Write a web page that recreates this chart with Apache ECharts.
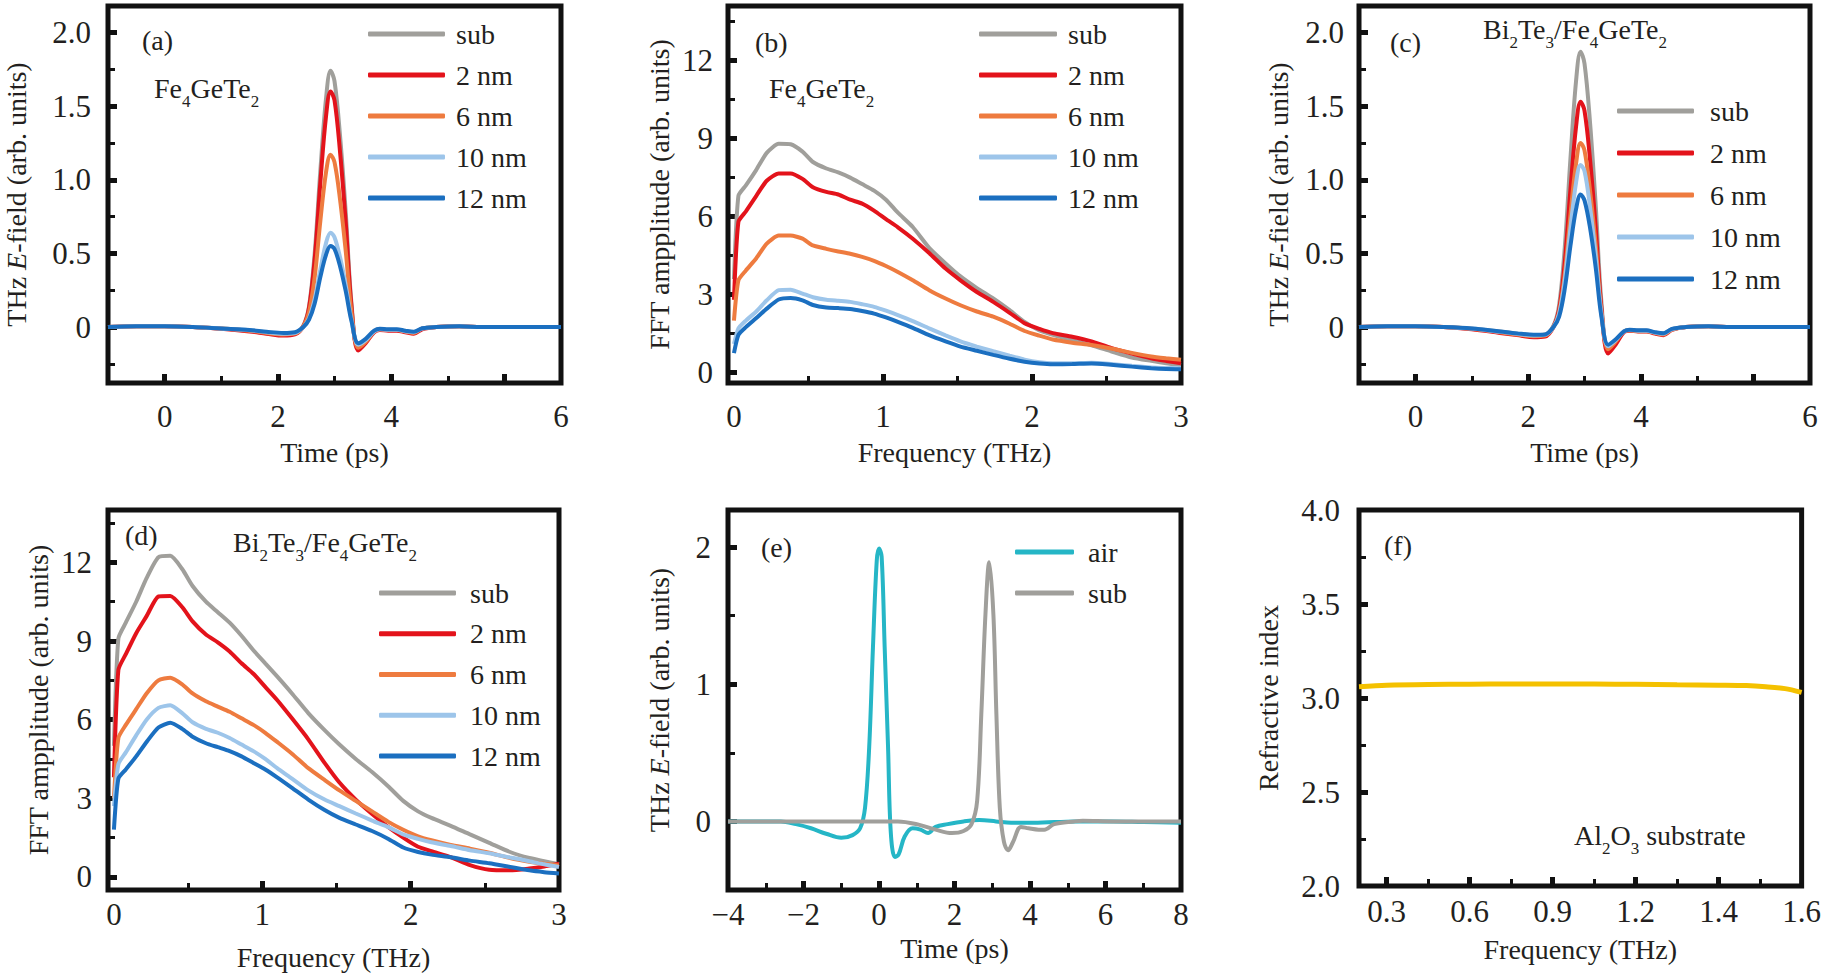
<!DOCTYPE html>
<html>
<head>
<meta charset="utf-8">
<title>THz emission</title>
<script src="https://cdn.jsdelivr.net/npm/echarts@6/dist/echarts.min.js"></script>
<style>
html,body{margin:0;padding:0;background:#fff;}
#main{width:1824px;height:974px;}
</style>
</head>
<body>
<div id="main"></div>
<script>
// time axis for (a) and (c), ps
var time = [-1, -0.5, 0, 0.5, 1.0, 1.5, 1.8, 2.1, 2.3, 2.45, 2.55, 2.65, 2.75, 2.85, 2.93, 3.0, 3.1, 3.2, 3.3, 3.42, 3.55, 3.7, 3.8, 3.95, 4.1, 4.25, 4.4, 4.55, 4.8, 5.2, 5.6, 6.0, 6.5, 7.0];
var aSub = [0, 0.005, 0.005, 0, -0.01, -0.025, -0.04, -0.05, -0.045, 0.01, 0.14, 0.5, 1.06, 1.55, 1.74, 1.67, 1.29, 0.77, 0.16, -0.15, -0.10, -0.03, -0.015, -0.02, -0.02, -0.03, -0.04, -0.01, 0, 0.005, 0, 0, 0, 0];
var a2 = [0, 0.005, 0.005, 0, -0.012, -0.03, -0.045, -0.058, -0.05, 0.005, 0.13, 0.46, 0.98, 1.43, 1.6, 1.54, 1.18, 0.7, 0.14, -0.16, -0.11, -0.035, -0.02, -0.025, -0.025, -0.035, -0.045, -0.015, 0, 0.005, 0, 0, 0, 0];
var a6 = [0, 0.005, 0.005, 0, -0.01, -0.025, -0.04, -0.05, -0.045, 0.005, 0.1, 0.34, 0.72, 1.05, 1.17, 1.12, 0.86, 0.51, 0.1, -0.14, -0.1, -0.03, -0.015, -0.02, -0.02, -0.03, -0.04, -0.01, 0, 0.005, 0, 0, 0, 0];
var a10 = [0, 0.005, 0.005, 0, -0.01, -0.022, -0.035, -0.045, -0.04, 0, 0.06, 0.19, 0.39, 0.57, 0.64, 0.61, 0.47, 0.28, 0.05, -0.12, -0.09, -0.03, -0.015, -0.018, -0.018, -0.028, -0.035, -0.01, 0, 0.005, 0, 0, 0, 0];
var a12 = [0, 0.005, 0.005, 0, -0.01, -0.02, -0.032, -0.04, -0.035, 0, 0.05, 0.16, 0.34, 0.49, 0.55, 0.53, 0.41, 0.24, 0.04, -0.11, -0.08, -0.025, -0.012, -0.015, -0.015, -0.025, -0.032, -0.008, 0, 0.005, 0, 0, 0, 0];

var cSub = [0, 0.005, 0.005, 0, -0.012, -0.03, -0.045, -0.055, -0.05, 0.01, 0.15, 0.54, 1.14, 1.67, 1.87, 1.79, 1.38, 0.82, 0.17, -0.16, -0.11, -0.03, -0.02, -0.025, -0.025, -0.04, -0.045, -0.015, 0, 0.005, 0, 0, 0, 0];
var c2 = [0, 0.005, 0.005, 0, -0.015, -0.04, -0.055, -0.07, -0.065, 0, 0.12, 0.44, 0.93, 1.36, 1.53, 1.47, 1.13, 0.67, 0.13, -0.18, -0.12, -0.035, -0.025, -0.03, -0.03, -0.045, -0.055, -0.02, 0, 0.005, 0, 0, 0, 0];
var c6 = [0, 0.005, 0.005, 0, -0.012, -0.035, -0.05, -0.062, -0.058, 0, 0.1, 0.36, 0.76, 1.11, 1.25, 1.2, 0.92, 0.55, 0.1, -0.15, -0.1, -0.03, -0.022, -0.028, -0.028, -0.04, -0.05, -0.018, 0, 0.005, 0, 0, 0, 0];
var c10 = [0, 0.005, 0.005, 0, -0.01, -0.032, -0.046, -0.057, -0.053, 0, 0.09, 0.32, 0.67, 0.98, 1.1, 1.06, 0.81, 0.48, 0.09, -0.13, -0.09, -0.03, -0.02, -0.025, -0.025, -0.038, -0.045, -0.015, 0, 0.005, 0, 0, 0, 0];
var c12 = [0, 0.005, 0.005, 0, -0.01, -0.03, -0.043, -0.052, -0.05, 0, 0.07, 0.26, 0.55, 0.8, 0.9, 0.86, 0.67, 0.4, 0.07, -0.12, -0.085, -0.03, -0.018, -0.022, -0.022, -0.035, -0.042, -0.012, 0, 0.005, 0, 0, 0, 0];

// frequency axis for (b) and (d), THz
var freq = [0, 0.03, 0.08, 0.15, 0.22, 0.3, 0.38, 0.46, 0.53, 0.62, 0.7, 0.78, 0.86, 0.94, 1.02, 1.1, 1.2, 1.31, 1.42, 1.52, 1.63, 1.74, 1.85, 1.95, 2.05, 2.14, 2.27, 2.4, 2.53, 2.67, 2.8, 2.9, 3.0];
var bSub = [3.6, 6.8, 7.2, 7.8, 8.45, 8.8, 8.78, 8.5, 8.1, 7.85, 7.7, 7.5, 7.25, 7.0, 6.65, 6.15, 5.6, 4.8, 4.2, 3.7, 3.25, 2.85, 2.4, 1.95, 1.62, 1.45, 1.25, 1.05, 0.82, 0.58, 0.45, 0.36, 0.29];
var b2 = [2.8, 5.8, 6.2, 6.8, 7.38, 7.66, 7.66, 7.45, 7.13, 6.95, 6.85, 6.65, 6.5, 6.23, 5.9, 5.59, 5.15, 4.6, 4.0, 3.55, 3.1, 2.72, 2.3, 1.9, 1.68, 1.52, 1.38, 1.2, 0.95, 0.73, 0.55, 0.45, 0.36];
var b6 = [2.0, 3.55, 3.93, 4.4, 4.96, 5.27, 5.27, 5.15, 4.89, 4.76, 4.66, 4.57, 4.45, 4.3, 4.1, 3.87, 3.55, 3.17, 2.85, 2.59, 2.35, 2.15, 1.88, 1.6, 1.42, 1.27, 1.15, 1.06, 0.93, 0.76, 0.62, 0.55, 0.49];
var b10 = [1.1, 1.7, 2.0, 2.35, 2.78, 3.17, 3.19, 3.04, 2.9, 2.8, 2.76, 2.72, 2.63, 2.53, 2.38, 2.21, 1.98, 1.7, 1.43, 1.2, 1.0, 0.82, 0.65, 0.5, 0.4, 0.36, 0.36, 0.38, 0.33, 0.26, 0.2, 0.18, 0.17];
var b12 = [0.75, 1.45, 1.75, 2.1, 2.46, 2.81, 2.87, 2.78, 2.6, 2.5, 2.48, 2.45, 2.37, 2.27, 2.12, 1.95, 1.72, 1.44, 1.2, 1.0, 0.84, 0.68, 0.53, 0.42, 0.35, 0.32, 0.33, 0.35, 0.3, 0.23, 0.17, 0.14, 0.13];

var dSub = [5.0, 9.1, 9.7, 10.5, 11.4, 12.2, 12.25, 11.75, 11.1, 10.5, 10.1, 9.7, 9.2, 8.65, 8.15, 7.65, 7.0, 6.25, 5.6, 5.05, 4.5, 4.0, 3.45, 2.9, 2.5, 2.25, 1.95, 1.62, 1.3, 0.95, 0.72, 0.6, 0.48];
var d2 = [3.8, 7.9, 8.5, 9.3, 9.95, 10.7, 10.72, 10.3, 9.75, 9.25, 8.95, 8.6, 8.15, 7.75, 7.25, 6.75, 6.05, 5.25, 4.35, 3.6, 2.95, 2.4, 1.9, 1.5, 1.15, 0.98, 0.75, 0.45, 0.27, 0.25, 0.32, 0.4, 0.5];
var d6 = [3.0, 5.3, 5.8, 6.4, 7.0, 7.5, 7.6, 7.35, 7.0, 6.7, 6.5, 6.3, 6.05, 5.8, 5.5, 5.15, 4.7, 4.15, 3.7, 3.3, 2.9, 2.5, 2.1, 1.8, 1.55, 1.4, 1.22, 1.08, 0.92, 0.72, 0.58, 0.5, 0.44];
var d10 = [2.7, 4.3, 4.75, 5.4, 6.0, 6.45, 6.55, 6.25, 5.9, 5.65, 5.5, 5.3, 5.05, 4.8, 4.5, 4.15, 3.75, 3.3, 2.95, 2.7, 2.42, 2.15, 1.9, 1.62, 1.45, 1.32, 1.18, 1.02, 0.9, 0.74, 0.6, 0.48, 0.38];
var d12 = [1.8, 3.75, 4.1, 4.6, 5.15, 5.7, 5.88, 5.65, 5.35, 5.1, 4.95, 4.8, 4.6, 4.35, 4.1, 3.8, 3.4, 2.95, 2.55, 2.25, 2.0, 1.75, 1.45, 1.12, 0.95, 0.85, 0.75, 0.62, 0.52, 0.38, 0.25, 0.18, 0.13];

// (e) reference pulses
var tAir = [-4, -3, -2.6, -2.2, -1.8, -1.4, -1.0, -0.7, -0.5, -0.37, -0.26, -0.16, -0.06, 0, 0.07, 0.15, 0.24, 0.31, 0.42, 0.52, 0.68, 0.89, 1.1, 1.3, 1.5, 1.82, 2.24, 2.66, 3.1, 3.5, 4.1, 5.2, 6.2, 7.0, 8.0];
var eAir = [0, 0, 0, -0.02, -0.05, -0.09, -0.12, -0.1, -0.05, 0.1, 0.54, 1.27, 1.9, 1.99, 1.93, 1.27, 0.54, -0.07, -0.26, -0.24, -0.11, -0.05, -0.06, -0.085, -0.04, -0.02, 0, 0.01, 0, -0.01, -0.01, 0, 0, -0.005, -0.01];
var tSub = [-4, -2, 0, 0.5, 1.0, 1.5, 1.93, 2.24, 2.45, 2.6, 2.71, 2.82, 2.92, 3.03, 3.11, 3.2, 3.31, 3.42, 3.55, 3.76, 3.96, 4.23, 4.38, 4.64, 5.17, 5.4, 6.2, 7.0, 8.0];
var eSub = [0, 0, 0, 0, -0.02, -0.06, -0.085, -0.07, -0.02, 0.15, 0.78, 1.51, 1.89, 1.51, 0.78, 0.1, -0.15, -0.21, -0.15, -0.04, -0.05, -0.06, -0.06, -0.02, 0, 0.005, 0, 0, 0];

// (f) refractive index of substrate
var fF = [0.2, 0.3, 0.45, 0.6, 0.75, 0.9, 1.05, 1.2, 1.35, 1.5, 1.6, 1.67, 1.74, 1.8];
var nF = [3.06, 3.068, 3.072, 3.073, 3.075, 3.074, 3.074, 3.073, 3.07, 3.068, 3.066, 3.06, 3.05, 3.03];

var names = ['sub', '2 nm', '6 nm', '10 nm', '12 nm'];
var colors = ['#a09f9b', '#e3131b', '#ee7b3f', '#9dc5ea', '#1b6fc0'];

// tick labels as printed on the figure
var tLabelPos = [0, 2, 4, 7];
var tLabelTxt = ['0', '2', '4', '6'];
var fLabelPos = [0.3, 0.6, 0.9, 1.2, 1.5, 1.8];
var fLabelTxt = ['0.3', '0.6', '0.9', '1.2', '1.4', '1.6'];

var F = "'Liberation Serif', 'Times New Roman', Times, 'DejaVu Serif', serif";
var INK = '#231f20';
var EDGE = '#111';
var TICK = 31;

var grids = [
	{left: 108, top: 6, width: 453, height: 377},
	{left: 728, top: 6, width: 453, height: 377},
	{left: 1359, top: 6, width: 451, height: 377},
	{left: 108, top: 510, width: 451, height: 380},
	{left: 728, top: 510, width: 453, height: 380},
	{left: 1359, top: 510, width: 450, height: 376}
];
grids.forEach(function (g) {
	g.show = true; g.borderColor = EDGE; g.borderWidth = 5; g.backgroundColor = 'transparent';
});

var richName = {
	n: {fontFamily: F, fontSize: 28, color: INK},
	i: {fontFamily: F, fontSize: 28, color: INK, fontStyle: 'italic'}
};
var richSub = {
	m: {fontFamily: F, fontSize: 28, fontWeight: 'normal', lineHeight: 30, verticalAlign: 'top', color: INK},
	s: {fontFamily: F, fontSize: 17, fontWeight: 'normal', lineHeight: 17, padding: [19, 0, 0, 0], verticalAlign: 'top', color: INK}
};

var xAxes = [], yAxes = [], series = [];

function addAxis(list, g, pos, min, max, o) {
	list.push({
		type: 'value', gridIndex: g, position: pos, min: min, max: max,
		name: o.name, nameLocation: 'middle', nameGap: o.nameGap,
		nameTextStyle: {fontFamily: F, fontSize: 28, color: INK, rich: richName},
		axisLine: {show: false, onZero: false}, splitLine: {show: false},
		axisTick: {show: true, inside: true, length: 9, customValues: o.major, lineStyle: {color: EDGE, width: 5}},
		axisLabel: {customValues: o.labels, formatter: o.fmt, margin: o.margin, fontFamily: F, fontSize: TICK, color: INK}
	});
	// minor ticks
	list.push({
		type: 'value', gridIndex: g, position: pos, min: min, max: max,
		axisLine: {show: false, onZero: false}, splitLine: {show: false}, axisLabel: {show: false},
		axisTick: {show: true, inside: true, length: 7, customValues: o.minor, lineStyle: {color: EDGE, width: 3}}
	});
}

function zip(xs, ys) {
	var out = [];
	for (var i = 0; i < xs.length; i++) out.push([xs[i], ys[i]]);
	return out;
}

function addLine(g, name, xs, ys, color, smooth, width) {
	series.push({
		type: 'line', name: name, xAxisIndex: 2 * g, yAxisIndex: 2 * g,
		data: zip(xs, ys), showSymbol: false, smooth: smooth,
		lineStyle: {width: width || 4, color: color}, itemStyle: {color: color}
	});
}

var one = function (v) { return v === 0 ? '0' : v.toFixed(1); };
var plain = function (v) { return String(v); };
var tFmt = function (v) { return tLabelTxt[tLabelPos.indexOf(v)]; };
var fFmt = function (v) { return fLabelTxt[fLabelPos.indexOf(v)]; };
var minus = function (v) { return v < 0 ? '\u2212' + (-v) : String(v); };
var eName = '{n|THz }{i|E}{n|-field (arb. units)}';
var fftName = 'FFT ampplitude (arb. units)';

// (a)
addAxis(xAxes, 0, 'bottom', -1, 7, {name: 'Time (ps)', nameGap: 55, labels: tLabelPos, fmt: tFmt, margin: 18, major: [0, 2, 4, 6], minor: [1, 3, 5]});
addAxis(yAxes, 0, 'left', -0.38, 2.18, {name: eName, nameGap: 78, labels: [0, 0.5, 1, 1.5, 2], fmt: one, margin: 17, major: [0, 0.5, 1, 1.5, 2], minor: [-0.25, 0.25, 0.75, 1.25, 1.75]});
// (b)
addAxis(xAxes, 1, 'bottom', -0.04, 3, {name: 'Frequency (THz)', nameGap: 55, labels: [0, 1, 2, 3], fmt: plain, margin: 18, major: [1, 2], minor: [0.5, 1.5, 2.5]});
addAxis(yAxes, 1, 'left', -0.4, 14.1, {name: fftName, nameGap: 55, labels: [0, 3, 6, 9, 12], fmt: plain, margin: 15, major: [0, 3, 6, 9, 12], minor: [1.5, 4.5, 7.5, 10.5, 13.5]});
// (c)
addAxis(xAxes, 2, 'bottom', -1, 7, {name: 'Time (ps)', nameGap: 55, labels: tLabelPos, fmt: tFmt, margin: 18, major: [0, 2, 4, 6], minor: [1, 3, 5]});
addAxis(yAxes, 2, 'left', -0.38, 2.18, {name: eName, nameGap: 67, labels: [0, 0.5, 1, 1.5, 2], fmt: one, margin: 15, major: [0, 0.5, 1, 1.5, 2], minor: [-0.25, 0.25, 0.75, 1.25, 1.75]});
// (d)
addAxis(xAxes, 3, 'bottom', -0.04, 3, {name: 'Frequency (THz)', nameGap: 53, labels: [0, 1, 2, 3], fmt: plain, margin: 9, major: [1, 2], minor: [0.5, 1.5, 2.5]});
addAxis(yAxes, 3, 'left', -0.5, 14, {name: fftName, nameGap: 56, labels: [0, 3, 6, 9, 12], fmt: plain, margin: 16, major: [0, 3, 6, 9, 12], minor: [1.5, 4.5, 7.5, 10.5, 13.5]});
// (e)
addAxis(xAxes, 4, 'bottom', -4, 8, {name: 'Time (ps)', nameGap: 44, labels: [-4, -2, 0, 2, 4, 6, 8], fmt: minus, margin: 9, major: [-2, 0, 2, 4, 6], minor: [-3, -1, 1, 3, 5, 7]});
addAxis(yAxes, 4, 'left', -0.5, 2.27, {name: eName, nameGap: 55, labels: [0, 1, 2], fmt: plain, margin: 17, major: [0, 1, 2], minor: [0.5, 1.5]});
// (f)
addAxis(xAxes, 5, 'bottom', 0.2, 1.8, {name: 'Frequency (THz)', nameGap: 49, labels: fLabelPos, fmt: fFmt, margin: 10, major: [0.3, 0.6, 0.9, 1.2, 1.5], minor: [0.45, 0.75, 1.05, 1.35, 1.65]});
addAxis(yAxes, 5, 'left', 2, 4, {name: 'Refractive index', nameGap: 77, labels: [2, 2.5, 3, 3.5, 4], fmt: function (v) { return v.toFixed(1); }, margin: 19, major: [2.5, 3, 3.5], minor: [2.25, 2.75, 3.25, 3.75]});

var setA = [aSub, a2, a6, a10, a12];
var setB = [bSub, b2, b6, b10, b12];
var setC = [cSub, c2, c6, c10, c12];
var setD = [dSub, d2, d6, d10, d12];
for (var k = 0; k < names.length; k++) {
	addLine(0, names[k], time, setA[k], colors[k], 0.35);
	addLine(1, names[k], freq, setB[k], colors[k], 0.2);
	addLine(2, names[k], time, setC[k], colors[k], 0.35);
	addLine(3, names[k], freq, setD[k], colors[k], 0.2);
}
addLine(4, 'air', tAir, eAir, '#25b6c6', 0.35);
addLine(4, 'sub', tSub, eSub, colors[0], 0.35);
addLine(5, 'Al2O3', fF, nF, '#f4c100', 0.3, 5);

function legendAt(left, top, gap, w, pad, data) {
	return {
		orient: 'vertical', left: left, top: top, padding: 0, itemGap: gap, itemWidth: w, itemHeight: 5,
		icon: 'roundRect', selectedMode: false, data: data, itemStyle: {borderWidth: 0},
		textStyle: {fontFamily: F, fontSize: 28, color: INK, padding: [0, 0, 0, pad]}
	};
}

function label(text, left, top) {
	return {text: text, left: left, top: top, padding: 0,
		textStyle: {fontFamily: F, fontSize: 28, fontWeight: 'normal', color: INK, lineHeight: 28}};
}
function formula(text, left, top) {
	return {text: text, left: left, top: top, padding: 0,
		textStyle: {fontFamily: F, fontWeight: 'normal', color: INK, rich: richSub}};
}

var myChart = echarts.init(document.getElementById('main'), null, {renderer: 'svg'});
var option = {
	animation: false,
	backgroundColor: '#fff',
	grid: grids,
	xAxis: xAxes,
	yAxis: yAxes,
	legend: [
		legendAt(368, 20, 13, 77, 6, names),
		legendAt(979, 20, 13, 78, 6, names),
		legendAt(1617, 97, 14, 77, 11, names),
		legendAt(379, 579, 12.75, 77, 9, names),
		legendAt(1015, 538, 13, 59, 9, ['air', 'sub'])
	],
	title: [
		label('(a)', 142, 26),
		formula('{m|Fe}{s|4}{m|GeTe}{s|2}', 154, 74),
		label('(b)', 755, 28),
		formula('{m|Fe}{s|4}{m|GeTe}{s|2}', 769, 74),
		label('(c)', 1390, 28),
		formula('{m|Bi}{s|2}{m|Te}{s|3}{m|/Fe}{s|4}{m|GeTe}{s|2}', 1483, 15),
		label('(d)', 125, 521),
		formula('{m|Bi}{s|2}{m|Te}{s|3}{m|/Fe}{s|4}{m|GeTe}{s|2}', 233, 528),
		label('(e)', 761, 533),
		label('(f)', 1384, 531),
		formula('{m|Al}{s|2}{m|O}{s|3}{m| substrate}', 1574, 821)
	],
	series: series
};
myChart.setOption(option);
</script>
</body>
</html>
